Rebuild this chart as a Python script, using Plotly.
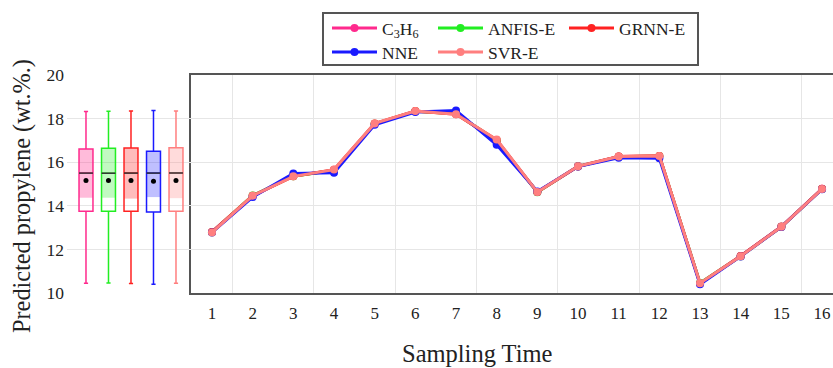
import numpy as np
import plotly.graph_objects as go

# ---------------- data ----------------
sampling_time = list(range(1, 17))
c3h6  = [12.80, 14.45, 15.38, 15.62, 17.75, 18.33, 18.25, 16.95, 14.63, 15.82, 16.26, 16.27, 10.45, 11.70, 13.05, 14.78]
anfis = [12.79, 14.47, 15.36, 15.63, 17.76, 18.34, 18.22, 17.00, 14.62, 15.81, 16.25, 16.28, 10.46, 11.69, 13.04, 14.77]
grnn  = [12.80, 14.46, 15.35, 15.65, 17.77, 18.35, 18.20, 17.02, 14.63, 15.80, 16.26, 16.29, 10.44, 11.70, 13.04, 14.78]
nne   = [12.78, 14.40, 15.48, 15.52, 17.72, 18.30, 18.37, 16.80, 14.66, 15.80, 16.20, 16.18, 10.40, 11.68, 13.03, 14.76]
svr   = [12.78, 14.46, 15.35, 15.66, 17.78, 18.35, 18.20, 17.04, 14.63, 15.81, 16.26, 16.29, 10.45, 11.69, 13.04, 14.77]

series_names = ["C<sub>3</sub>H<sub>6</sub>", "ANFIS-E", "GRNN-E", "NNE", "SVR-E"]
series_values = [c3h6, anfis, grnn, nne, svr]
series_colors = ["#ff2a8d", "#22ee22", "#ff2222", "#1a1aff", "#ff7f7f"]
box_fills = ["rgba(255,42,141,0.32)", "rgba(34,238,34,0.28)", "rgba(255,34,34,0.30)",
             "rgba(26,26,255,0.28)", "rgba(255,127,127,0.28)"]
box_positions = [1, 2, 3, 4, 5]
shade_low = [14.37, 14.37, 14.33, 14.40, 14.35]
legend_ids = ["legend", "legend2", "legend3", "legend4", "legend5"]

x_ticks = list(range(1, 17))
x_grid = [1.5, 3.5, 5.5, 7.5, 9.5, 11.5, 13.5, 15.5]
y_ticks = [10, 12, 14, 16, 18, 20]
y_grid = [12, 14, 16, 18]

FONT = "Liberation Serif"
GRID = "#e6e6e6"
FRAME = "#555555"
TEXT = "#222222"
BOXW = 0.62

fig = go.Figure()

# ---------------- box panel ----------------
for pos, vals, col, fill, lo in zip(box_positions, series_values, series_colors, box_fills, shade_low):
    s = np.sort(np.array(vals))
    n = len(s)
    q3 = float(np.median(s[n // 2:]))
    fig.add_trace(go.Bar(x=[pos], y=[q3 - lo], base=[lo], width=BOXW, marker_color=fill,
                         marker_line_width=0, xaxis="x2", yaxis="y", showlegend=False,
                         hoverinfo="skip"))
for pos, vals, col in zip(box_positions, series_values, series_colors):
    fig.add_trace(go.Box(y=vals, x0=pos, xaxis="x2", yaxis="y", boxpoints=False,
                         quartilemethod="exclusive", line=dict(color=col, width=1.5),
                         fillcolor="rgba(0,0,0,0)", width=BOXW, whiskerwidth=0.3,
                         showlegend=False))
for pos, vals in zip(box_positions, series_values):
    med = float(np.median(vals))
    fig.add_trace(go.Scatter(x=[pos - BOXW / 2, pos + BOXW / 2], y=[med, med], mode="lines",
                             line=dict(color="#333333", width=1.5), xaxis="x2", yaxis="y",
                             showlegend=False, hoverinfo="skip"))
    fig.add_trace(go.Scatter(x=[pos], y=[float(np.mean(vals))], mode="markers",
                             marker=dict(color="black", size=5), xaxis="x2", yaxis="y",
                             showlegend=False))

# ---------------- line panel ----------------
for name, vals, col, lg in zip(series_names, series_values, series_colors, legend_ids):
    fig.add_trace(go.Scatter(x=sampling_time, y=vals, name=name, mode="lines+markers",
                             line=dict(color=col, width=3), marker=dict(color=col, size=8),
                             xaxis="x", yaxis="y2", legend=lg))

L, R, T, B = 67, 0, 75, 75
W, H = 833, 368
pw = W - L - R
ph = H - T - B
split = (191 - L) / pw

def px_x(p):
    return (p - L) / pw

def px_y(p):
    return (H - B - p) / ph

legend_common = dict(orientation="h", xanchor="left", yanchor="top",
                     bgcolor="rgba(0,0,0,0)", borderwidth=0, itemwidth=45,
                     font=dict(family=FONT, size=17.5, color=TEXT))
legend_pos = [(327, 10), (433, 10), (564, 10), (327, 34), (433, 34)]
legend_layouts = {}
for lid, (lx, ly) in zip(legend_ids, legend_pos):
    legend_layouts[lid] = dict(x=px_x(lx), y=px_y(ly), **legend_common)

fig.update_layout(
    width=W, height=H, margin=dict(l=L, r=R, t=T, b=B, autoexpand=False),
    paper_bgcolor="white", plot_bgcolor="white",
    font=dict(family=FONT, size=17, color=TEXT),
    barmode="overlay",
    xaxis=dict(domain=[split, 1], range=[0.484, 16.27], tickvals=x_ticks,
               showgrid=False, zeroline=False, showline=True, mirror=True,
               linecolor=FRAME, linewidth=2, ticks="", tickfont=dict(size=17),
               ticklabelstandoff=4,
               minor=dict(tickvals=x_grid, showgrid=True, gridcolor=GRID, gridwidth=1, ticks=""),
               anchor="y2"),
    xaxis2=dict(domain=[0, split], range=[0.156, 5.667], showgrid=False, zeroline=False,
                showline=False, showticklabels=False, ticks="", anchor="y"),
    yaxis=dict(range=[10, 20], tickvals=y_ticks, showgrid=False, zeroline=False,
               showline=False, ticks="", tickfont=dict(size=17.5), anchor="x2",
               ticklabelstandoff=2,
               minor=dict(tickvals=y_grid, showgrid=True, gridcolor=GRID, gridwidth=1, ticks="")),
    yaxis2=dict(range=[10, 20], matches="y", tickvals=y_ticks, showticklabels=False,
                showgrid=False, zeroline=False, showline=True, linecolor=FRAME, linewidth=2,
                ticks="", anchor="x",
                minor=dict(tickvals=y_grid, showgrid=True, gridcolor=GRID, gridwidth=1, ticks="")),
    shapes=[dict(type="rect", xref="paper", yref="paper", x0=px_x(323), x1=px_x(698),
                 y0=px_y(65), y1=px_y(13), line=dict(color=FRAME, width=2),
                 fillcolor="rgba(0,0,0,0)", layer="below")],
    annotations=[
        dict(text="Predicted propylene (wt.%.)", xref="paper", yref="paper",
             x=px_x(22), y=px_y(196), xanchor="center", yanchor="middle",
             textangle=-90, showarrow=False,
             font=dict(family=FONT, size=24.3, color=TEXT)),
        dict(text="Sampling Time", xref="paper", yref="paper",
             x=px_x(477), y=px_y(353), xanchor="center", yanchor="middle",
             showarrow=False,
             font=dict(family=FONT, size=24.5, color=TEXT)),
    ],
    **legend_layouts,
)

fig.write_html("out.html")
